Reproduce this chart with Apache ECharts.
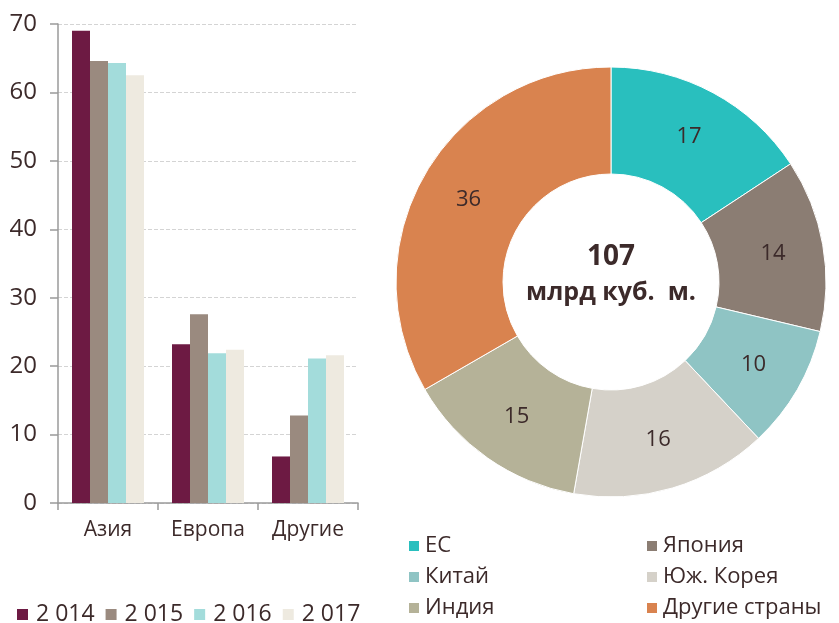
<!DOCTYPE html>
<html>
<head>
<meta charset="utf-8">
<script src="https://cdn.jsdelivr.net/npm/echarts@6/dist/echarts.min.js"></script>
<style>
  html, body { margin: 0; padding: 0; background: #fff; }
  #chart { width: 839px; height: 623px; }
</style>
</head>
<body>
<div id="chart"></div>
<script>
// данные столбчатой диаграммы
var regions = ['Азия', 'Европа', 'Другие'];
var years = ['2 014', '2 015', '2 016', '2 017'];
var v2014 = [69, 23.2, 6.8];
var v2015 = [64.6, 27.6, 12.8];
var v2016 = [64.3, 21.9, 21.1];
var v2017 = [62.5, 22.4, 21.6];
var barColors = ['#6d1a43', '#9a8a7f', '#a3dcdb', '#eeeae0'];

// данные кольцевой диаграммы
var countries = ['ЕС', 'Япония', 'Китай', 'Юж. Корея', 'Индия', 'Другие страны'];
var shares = [17, 14, 10, 16, 15, 36];
var pieColors = ['#29bfbe', '#8b7d73', '#8fc4c4', '#d5d1c9', '#b5b298', '#d9834f'];
var totalText = ['107', 'млрд куб.  м.'];

var txt = '#3c2a2a';
var font = 'Open Sans';

var chart = echarts.init(document.getElementById('chart'));

var barValues = [v2014, v2015, v2016, v2017];
var barSeries = years.map(function (y, i) {
    return {
        name: y,
        type: 'bar',
        data: barValues[i],
        barGap: '0%',
        barCategoryGap: '28%',
        itemStyle: { color: barColors[i] }
    };
});

var pieData = countries.map(function (c, i) {
    return { name: c, value: shares[i], itemStyle: { color: pieColors[i] } };
});

chart.setOption({
    animation: false,
    textStyle: { fontFamily: font, color: txt },
    grid: { left: 58, right: 481, top: 24, bottom: 120 },
    xAxis: {
        type: 'category',
        data: regions,
        axisLine: { lineStyle: { color: '#9a9a9a', width: 1.5 } },
        axisTick: { show: true, length: 7, lineStyle: { color: '#9a9a9a', width: 1.5 } },
        axisLabel: { color: txt, fontSize: 21, margin: 17, fontFamily: font }
    },
    yAxis: {
        type: 'value',
        min: 0,
        max: 70,
        interval: 10,
        axisLine: { show: true, lineStyle: { color: '#9a9a9a', width: 1.5 } },
        axisTick: { show: true, length: 8, lineStyle: { color: '#9a9a9a', width: 1.5 } },
        axisLabel: { color: txt, fontSize: 24, margin: 21, fontFamily: font },
        splitLine: { lineStyle: { color: '#d4d4d4', type: 'dashed', width: 1 } }
    },
    legend: [
        {
            data: years,
            left: 12,
            top: 598,
            icon: 'rect',
            itemWidth: 11,
            itemHeight: 11,
            itemGap: 11,
            textStyle: { color: txt, fontSize: 23, fontFamily: font, padding: [0, 0, 0, 3] }
        },
        {
            data: ['ЕС', 'Китай', 'Индия'],
            orient: 'vertical',
            left: 402,
            top: 530,
            height: 120,
            icon: 'rect',
            itemWidth: 12,
            itemHeight: 12,
            itemGap: 9,
            textStyle: { color: txt, fontSize: 22, fontFamily: font }
        },
        {
            data: ['Япония', 'Юж. Корея', 'Другие страны'],
            orient: 'vertical',
            left: 640,
            top: 530,
            height: 120,
            icon: 'rect',
            itemWidth: 12,
            itemHeight: 12,
            itemGap: 9,
            textStyle: { color: txt, fontSize: 22, fontFamily: font }
        }
    ],
    graphic: [
        {
            type: 'text',
            style: {
                text: totalText[0],
                x: 611,
                y: 257,
                align: 'center',
                verticalAlign: 'middle',
                fill: txt,
                font: 'bold 28px "Open Sans"'
            }
        },
        {
            type: 'text',
            style: {
                text: totalText[1],
                x: 611,
                y: 293,
                align: 'center',
                verticalAlign: 'middle',
                fill: txt,
                font: 'bold 25px "Open Sans"'
            }
        }
    ],
    series: barSeries.concat([{
        name: 'share',
        type: 'pie',
        center: [611, 282],
        radius: [108, 215],
        startAngle: 90,
        clockwise: true,
        data: pieData,
        itemStyle: { borderColor: '#fff', borderWidth: 1 },
        label: {
            position: 'inside',
            formatter: '{c}',
            color: txt,
            fontSize: 22,
            fontFamily: font
        },
        labelLine: { show: false },
        emphasis: { disabled: true }
    }])
});
</script>
</body>
</html>
